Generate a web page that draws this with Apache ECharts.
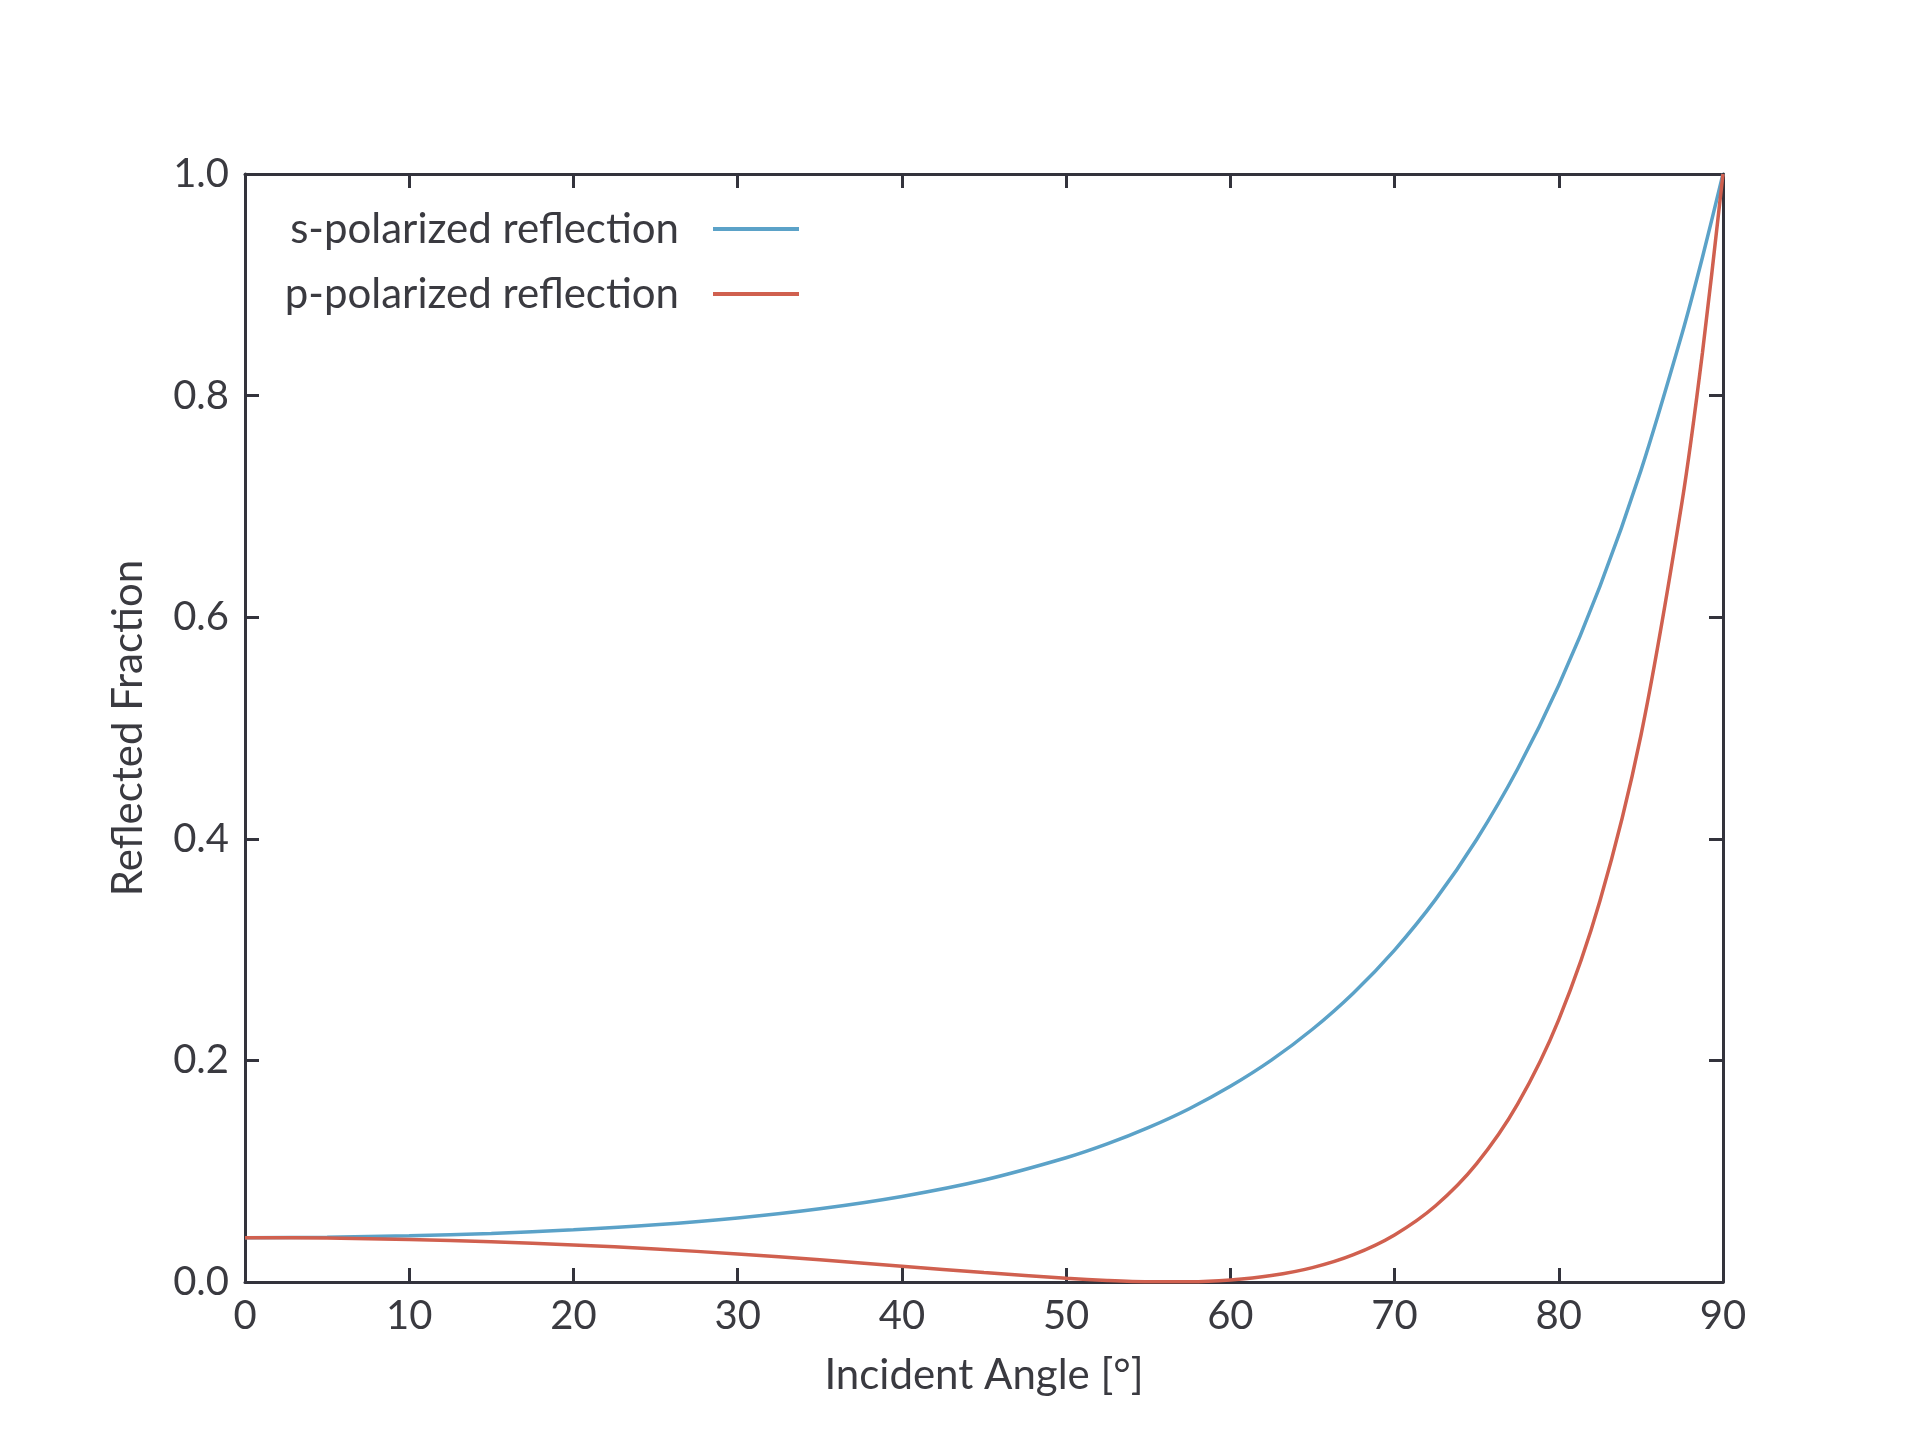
<!DOCTYPE html>
<html>
<head>
<meta charset="utf-8">
<title>Reflected Fraction vs Incident Angle</title>
<script src="https://cdn.jsdelivr.net/npm/echarts@6/dist/echarts.min.js"></script>
<style>
  html, body { margin: 0; padding: 0; background: #fff; }
  #chart { width: 1920px; height: 1440px; }
</style>
</head>
<body>
<div id="chart"></div>
<script>
  // values
  const angles = [0, 5, 10, 15, 20, 25, 30, 35, 40, 45, 50, 52.5, 55, 57.5, 60, 62.5, 65, 67.5, 70, 72.5, 75, 77.5, 80, 82.5, 85, 87.5, 88.75, 90];
  const sPolarized = [0.040, 0.0404, 0.0417, 0.0438, 0.0471, 0.0516, 0.0578, 0.0661, 0.0772, 0.0920, 0.1121, 0.1246, 0.1393, 0.1564, 0.1766, 0.2002, 0.2281, 0.2609, 0.2996, 0.3453, 0.3994, 0.4632, 0.5386, 0.6276, 0.7323, 0.8556, 0.9249, 1.0];
  const pPolarized = [0.040, 0.0396, 0.0384, 0.0363, 0.0335, 0.0298, 0.0253, 0.0200, 0.0143, 0.0085, 0.0033, 0.0013, 0.0002, 0.0002, 0.0018, 0.0058, 0.0130, 0.0247, 0.0425, 0.0688, 0.1068, 0.1607, 0.2368, 0.3436, 0.4932, 0.7035, 0.8389, 1.0];
  const seriesNames = ["s-polarized reflection", "p-polarized reflection"];
  const colors = ["#5ba2c8", "#d0604f"];

  const axisColor = "#33333c";
  const textColor = "#3a3a40";
  const fontFamily = "Lato, 'Noto Sans', sans-serif";

  const chart = echarts.init(document.getElementById("chart"));

  const baseAxis = {
    type: "value",
    axisLine: { show: true, onZero: false, lineStyle: { color: axisColor, width: 3 } },
    axisTick: { show: true, inside: true, length: 14, lineStyle: { color: axisColor, width: 3 } },
    splitLine: { show: false },
  };

  chart.setOption({
    animation: false,
    textStyle: { fontFamily: fontFamily },
    color: colors,
    grid: { left: 245, right: 197, top: 174, bottom: 158 },
    legend: {
      orient: "vertical",
      align: "right",
      right: 1116,
      top: 200,
      itemWidth: 86,
      itemHeight: 4,
      itemGap: 17,
      icon: "rect",
      textStyle: { fontSize: 42, color: textColor, lineHeight: 48, padding: [0, 29, 0, 0] },
      data: seriesNames,
    },
    xAxis: [
      {
        ...baseAxis,
        min: 0, max: 90, interval: 10,
        name: "Incident Angle [°]",
        nameLocation: "middle",
        nameGap: 72,
        nameTextStyle: { fontSize: 42, color: textColor },
        axisLabel: { fontSize: 40, color: textColor, margin: 14 },
      },
      {
        ...baseAxis,
        position: "top",
        min: 0, max: 90, interval: 10,
        axisLabel: { show: false },
      },
    ],
    yAxis: [
      {
        ...baseAxis,
        min: 0, max: 1, interval: 0.2,
        name: "Reflected Fraction",
        nameLocation: "middle",
        nameGap: 96,
        nameTextStyle: { fontSize: 42, color: textColor },
        axisLabel: { fontSize: 40, color: textColor, margin: 16, formatter: (v) => v.toFixed(1) },
      },
      {
        ...baseAxis,
        position: "right",
        min: 0, max: 1, interval: 0.2,
        axisLabel: { show: false },
      },
    ],
    series: [sPolarized, pPolarized].map((vals, i) => ({
      name: seriesNames[i],
      type: "line",
      data: angles.map((a, j) => [a, vals[j]]),
      smooth: 0.3,
      showSymbol: false,
      lineStyle: { width: 3.5, color: colors[i] },
      itemStyle: { color: colors[i] },
    })),
  });
</script>
</body>
</html>
